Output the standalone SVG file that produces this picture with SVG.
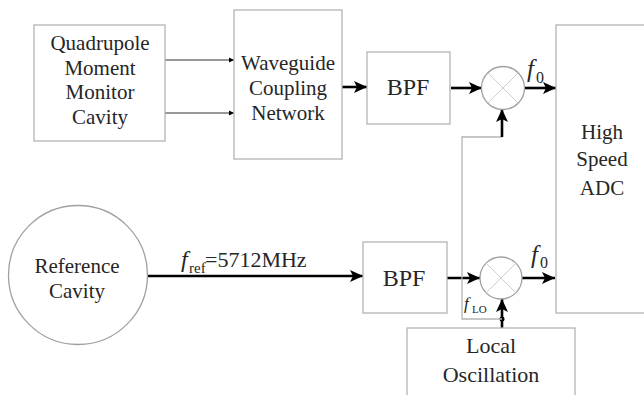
<svg xmlns="http://www.w3.org/2000/svg" width="644" height="395" viewBox="0 0 644 395">
<defs>
<style>
.box{fill:#fff;stroke:#b4b4b4;stroke-width:1.3}
.mix{fill:#fff;stroke:#a0a0a0;stroke-width:1.3}
.x{stroke:#cfcfcf;stroke-width:1}
text{font-family:"Liberation Serif","Times New Roman",serif;fill:#262626;text-anchor:middle}
.t{font-size:21px}
.b{font-size:24px}
.lo{font-size:22px}
.thick{stroke:#000;stroke-width:2.6;fill:none}
.thin{stroke:#333;stroke-width:1.2;fill:none}
.gray{stroke:#b4b4b4;stroke-width:1.3;fill:none}
.lab{text-anchor:start}
</style>
<marker id="ah" markerUnits="userSpaceOnUse" markerWidth="14" markerHeight="12" refX="13" refY="6" orient="auto">
<path d="M0,0 L13,6 L0,12 L3,6 Z" fill="#000"/>
</marker>
<marker id="as" markerUnits="userSpaceOnUse" markerWidth="6" markerHeight="6" refX="5" refY="3" orient="auto">
<path d="M0,0.5 L5,3 L0,5.5 Z" fill="#000"/>
</marker>
</defs>
<rect width="644" height="395" fill="#fff"/>

<g id="connectors">
<line class="thin" x1="165" y1="60" x2="234" y2="60" marker-end="url(#as)"/>
<line class="thin" x1="165" y1="113" x2="234" y2="113" marker-end="url(#as)"/>
<line class="thick" x1="342" y1="87" x2="367" y2="87" marker-end="url(#ah)"/>
<line class="thick" x1="451" y1="88" x2="482" y2="88" marker-end="url(#ah)"/>
<line class="thick" x1="525" y1="88" x2="556" y2="88" marker-end="url(#ah)"/>
<line class="thick" x1="148" y1="276" x2="363" y2="276" marker-end="url(#ah)"/>
<line class="thick" x1="447" y1="278" x2="480" y2="278" marker-end="url(#ah)"/>
<line class="thick" x1="522" y1="278" x2="555" y2="278" marker-end="url(#ah)"/>
<line class="thick" x1="502" y1="328" x2="502" y2="299" marker-end="url(#ah)"/>
<circle cx="502" cy="319" r="2.5" fill="#000"/>
<polyline class="gray" points="502,319 462,319 462,137 502,137"/>
<line class="thick" x1="502" y1="137" x2="502" y2="109" marker-end="url(#ah)"/>
</g>

<g id="qmm">
<rect class="box" x="34" y="25" width="131" height="116"/>
<text class="t" x="100" y="50">Quadrupole</text>
<text class="t" x="100" y="74.5">Moment</text>
<text class="t" x="100" y="99">Monitor</text>
<text class="t" x="100" y="124">Cavity</text>
</g>

<g id="waveguide">
<rect class="box" x="234" y="10" width="108" height="149"/>
<text class="t" x="288" y="70">Waveguide</text>
<text class="t" x="288" y="95">Coupling</text>
<text class="t" x="288" y="120">Network</text>
</g>

<g id="bpf1">
<rect class="box" x="367" y="52" width="83" height="72"/>
<text class="b" x="408" y="95">BPF</text>
</g>

<g id="mixer1">
<circle class="mix" cx="503" cy="88" r="21.5"/>
<line class="x" x1="487.8" y1="72.8" x2="518.2" y2="103.2"/>
<line class="x" x1="518.2" y1="72.8" x2="487.8" y2="103.2"/>
<text class="lab" x="527" y="77" font-size="25" font-style="italic">f</text>
<text class="lab" x="536" y="83" font-size="16">0</text>
</g>

<g id="adc">
<rect class="box" x="556" y="25" width="100" height="288"/>
<text class="t" x="602" y="139">High</text>
<text class="t" x="602" y="166">Speed</text>
<text class="t" x="602" y="195">ADC</text>
</g>

<g id="reference">
<circle class="mix" cx="78" cy="275" r="69.5"/>
<text class="t" x="77" y="273">Reference</text>
<text class="t" x="77" y="298">Cavity</text>
</g>

<g id="fref-label">
<text class="lab" x="181" y="267" font-size="24" font-style="italic">f</text>
<text class="lab" x="189" y="273" font-size="15">ref</text>
<text class="lab" x="205" y="267" font-size="22">=5712MHz</text>
</g>

<g id="bpf2">
<rect class="box" x="363" y="242" width="84" height="71"/>
<text class="b" x="404" y="286">BPF</text>
</g>

<g id="mixer2">
<circle class="mix" cx="501" cy="278" r="21"/>
<line class="x" x1="486.2" y1="263.2" x2="515.8" y2="292.8"/>
<line class="x" x1="515.8" y1="263.2" x2="486.2" y2="292.8"/>
<text class="lab" x="531" y="263" font-size="25" font-style="italic">f</text>
<text class="lab" x="540" y="268" font-size="16">0</text>
<text class="lab" x="464" y="309" font-size="17" font-style="italic">f</text>
<text class="lab" x="472" y="313" font-size="11">LO</text>
</g>

<g id="local-osc">
<rect class="box" x="407" y="328" width="168" height="80"/>
<text class="lo" x="491" y="353">Local</text>
<text class="lo" x="491" y="382">Oscillation</text>
</g>
</svg>
